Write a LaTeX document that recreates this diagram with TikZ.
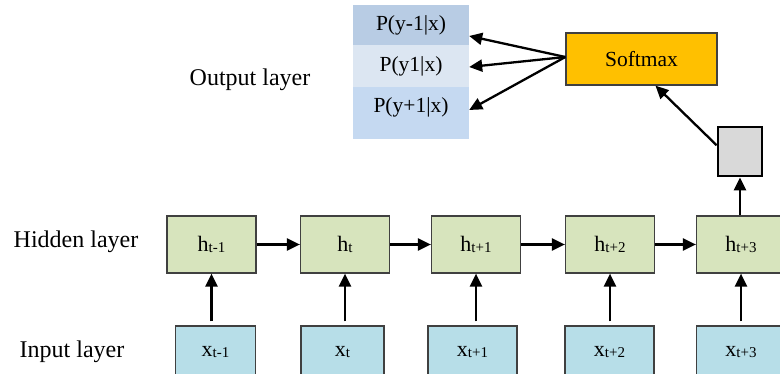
\documentclass[tikz,border=0pt]{standalone}
\usepackage{fontspec}
\setmainfont{Liberation Serif}
\usetikzlibrary{arrows.meta,calc}
\definecolor{hidfill}{RGB}{215,228,189}
\definecolor{infill}{RGB}{183,222,232}
\definecolor{rowa}{RGB}{184,204,228}
\definecolor{rowb}{RGB}{220,230,242}
\definecolor{rowc}{RGB}{197,217,241}
\definecolor{smfill}{RGB}{255,192,0}
\definecolor{boxline}{RGB}{64,64,64}
\newcommand{\mysub}[1]{\raisebox{-1.5pt}{\fontsize{15}{15}\selectfont #1}}
\begin{document}
\begin{tikzpicture}[x=1pt,y=-1pt,
  hidbox/.style={draw=boxline,line width=1.2pt,fill=hidfill,minimum width=89pt,minimum height=57pt,inner sep=0pt,font=\fontsize{22}{22}\selectfont},
  inbox/.style={draw=boxline,line width=1.2pt,fill=infill,minimum width=86pt,minimum height=52pt,inner sep=0pt,font=\fontsize{22}{22}\selectfont},
  rowbox/.style={minimum width=116pt,inner sep=0pt,font=\fontsize{21.5}{21.5}\selectfont},
  lbl/.style={inner sep=0pt,font=\fontsize{24}{24}\selectfont},
  arr/.style={line width=2.3pt,-{Triangle[length=13pt,width=12pt]}}]
\useasboundingbox (0,0) rectangle (780,374);
% labels
\node[lbl] (lout) at (250,80) {Output layer};
\node[lbl] (lhid) at (76,242) {Hidden layer};
\node[lbl] (lin) at (72,352) {Input layer};
% hidden
\node[hidbox] (h1) at (211.5,244.5) {h\mysub{t-1}};
\node[hidbox] (h2) at (345,244.5) {h\mysub{t}};
\node[hidbox] (h3) at (476,244.5) {h\mysub{t+1}};
\node[hidbox] (h4) at (610,244.5) {h\mysub{t+2}};
\node[hidbox] (h5) at (741,244.5) {h\mysub{t+3}};
% inputs
\node[inbox,minimum width=80pt] (x1) at (215.5,352) {x\mysub{t-1}};
\node[inbox,minimum width=83pt] (x2) at (342.5,352) {x\mysub{t}};
\node[inbox,minimum width=89pt] (x3) at (472.5,352) {x\mysub{t+1}};
\node[inbox,minimum width=89pt] (x4) at (609.5,352) {x\mysub{t+2}};
\node[inbox,minimum width=89pt] (x5) at (741,352) {x\mysub{t+3}};
% gray box and softmax
\node[draw=black,line width=2.8pt,fill=black!15,minimum width=44pt,minimum height=49pt,inner sep=0pt] (g) at (740,151.5) {};
\node[draw=boxline,line width=1.3pt,fill=smfill,minimum width=151pt,minimum height=52pt,inner sep=0pt,font=\fontsize{21.5}{21.5}\selectfont] (sm) at (641.5,59) {Softmax};
% table
\fill[rowc] (353,87) rectangle (469,139);
\node[rowbox,fill=rowa,minimum height=40pt] (r1) at (411,25) {P(y-1|x)};
\node[rowbox,fill=rowb,minimum height=42pt] (r2) at (411,66) {P(y1|x)};
\node[rowbox,minimum height=40pt] (r3) at (411,107) {P(y+1|x)};
% arrows
\foreach \a/\b in {h1/h2,h2/h3,h3/h4,h4/h5}
  \draw[arr] (\a.east) -- (\b.west);
\foreach \a/\b in {x1/h1,x2/h2,x3/h3,x4/h4,x5/h5}
  \draw[arr] ($(\b.south |- \a.north)+(0,-4)$) -- (\b.south);
\draw[arr] (g.south |- h5.north) -- (g.south);
\draw[arr] (g.165) -- ($(sm.south)+(14,0)$);
\draw[arr] ($(sm.west)+(0,-2)$) -- ($(r1.east)+(0,11)$);
\draw[arr] ($(sm.west)+(0,-2)$) -- ($(r2.east)+(0,1)$);
\draw[arr] ($(sm.west)+(0,-2)$) -- ($(r3.east)+(0,3)$);
\end{tikzpicture}
\end{document}
